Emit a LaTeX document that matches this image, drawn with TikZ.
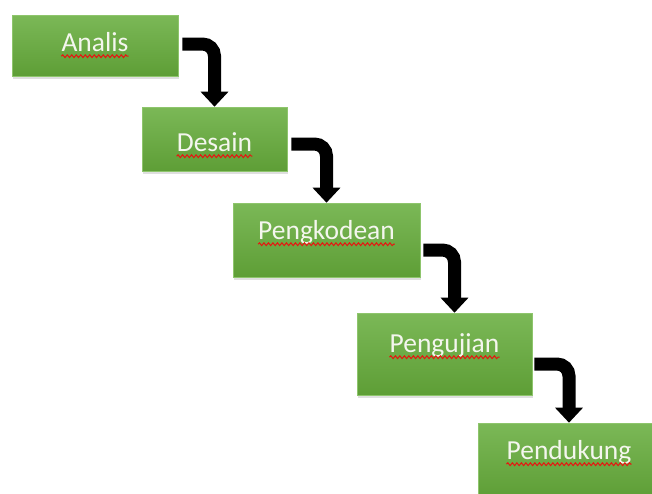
\documentclass[tikz,border=0pt]{standalone}
\usepackage{fontspec}
\setmainfont{Carlito}
\usepackage{tikz}
\usetikzlibrary{arrows.meta,positioning,calc,shadows,decorations.pathmorphing}
\definecolor{GreenTop}{HTML}{7BB857}
\definecolor{GreenBottom}{HTML}{5E9E36}
\definecolor{GreenEdge}{HTML}{8EC56C}
\definecolor{TextWhite}{HTML}{F4F6EE}
\definecolor{SpellRed}{HTML}{E8140F}

\begin{document}
\begin{tikzpicture}[x=1pt,y=-1pt,
  phase/.style={rectangle,draw=GreenEdge,line width=0.6pt,top color=GreenTop,bottom color=GreenBottom,
                drop shadow={opacity=0.25,shadow xshift=1pt,shadow yshift=-2.5pt}},
  phaselabel/.style={anchor=base,inner sep=0pt,text=TextWhite,font=\fontsize{27.5}{30}\selectfont},
  spell/.style={SpellRed,line width=1pt,decorate,decoration={snake,amplitude=1.4pt,segment length=4.5pt}},
  flow/.style={line width=13pt,rounded corners=12pt,-{Triangle[width=27pt,length=15pt]}}
]
\useasboundingbox (0,0) rectangle (652,493);
\clip (0,0) rectangle (652,493);

%% Phases
\node[phase,minimum width=166pt,minimum height=61pt] (analis)     at (95,45.5)  {};
\node[phase,minimum width=145pt,minimum height=64pt] (desain)     at (214.5,139) {};
\node[phase,minimum width=187pt,minimum height=74pt] (pengkodean) at (326.5,240) {};
\node[phase,minimum width=175pt,minimum height=82pt] (pengujian)  at (444.5,354) {};
\node[phase,minimum width=182pt,minimum height=75pt] (pendukung)  at (569,460.5) {};

%% Labels
\node[phaselabel] (analis-lbl)     at ([yshift=-37pt]analis.north)     {Analis};
\node[phaselabel] (desain-lbl)     at ([yshift=-45pt]desain.north)     {Desain};
\node[phaselabel] (pengkodean-lbl) at ([yshift=-37pt]pengkodean.north) {Pengkodean};
\node[phaselabel] (pengujian-lbl)  at ([yshift=-40pt]pengujian.north)  {Pengujian};
\node[phaselabel] (pendukung-lbl)  at ([yshift=-37pt]pendukung.north)  {Pendukung};

\foreach \n in {analis,desain,pengkodean,pengujian,pendukung}
  \draw[spell] ([yshift=-4.5pt]\n-lbl.base west) -- ([yshift=-4.5pt]\n-lbl.base east);

%% Arrows
\draw[flow] ([xshift=4pt,yshift=1.5pt]analis.east) -| (desain.north);
\draw[flow] ([xshift=4pt,yshift=-5pt]desain.east) -| (pengkodean.north);
\draw[flow] ([xshift=3pt,yshift=-10pt]pengkodean.east) -| ([xshift=10pt]pengujian.north);
\draw[flow] ([xshift=2pt,yshift=-10pt]pengujian.east) -| (pendukung.north);

\end{tikzpicture}
\end{document}
